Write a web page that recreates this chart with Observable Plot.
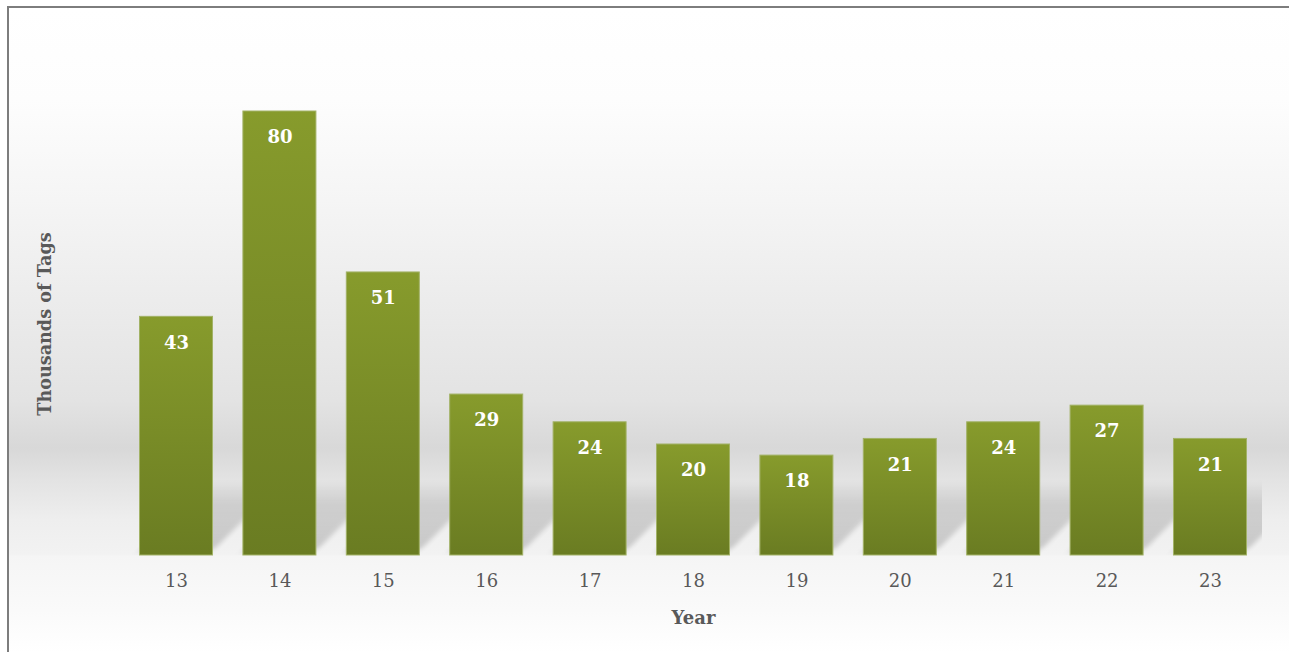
<!DOCTYPE html>
<html>
<head>
<meta charset="utf-8">
<script src="https://cdn.jsdelivr.net/npm/d3@7"></script>
<script src="https://cdn.jsdelivr.net/npm/@observablehq/plot@0.6"></script>
<style>
  html, body { margin: 0; padding: 0; background: #ffffff; }
  #page { position: relative; width: 1289px; height: 652px; overflow: hidden; }
  #frame {
    position: absolute; left: 7px; top: 6px; width: 1290px; height: 660px;
    border-left: 2px solid #7d7d7d; border-top: 2px solid #7d7d7d;
    background: linear-gradient(to bottom,
      #ffffff 0px, #fdfdfd 92px, #f5f5f5 192px, #ececec 292px, #e3e3e3 392px,
      #d8d8d8 440px, #e3e3e3 472px, #eeeeee 512px, #f2f2f2 546px,
      #f5f5f5 548px, #fafafa 602px, #ffffff 644px);
  }
  #chart { position: absolute; left: 0; top: 0; }
</style>
</head>
<body>
<div id="page"><div id="frame"></div><div id="chart"></div></div>
<script>
const years = ["13", "14", "15", "16", "17", "18", "19", "20", "21", "22", "23"];
const tags = [43, 80, 51, 29, 24, 20, 18, 21, 24, 27, 21];
const xTitle = "Year";
const yTitle = "Thousands of Tags";

const data = years.map((year, i) => ({year, tags: tags[i]}));
const SHADOW_DEPTH = 12; // depth of the floor shadow, in y units

const font = "'DejaVu Serif', serif";
const chart = Plot.plot({
  width: 1289,
  height: 652,
  marginLeft: 124,
  marginRight: 27,
  marginTop: 111,
  marginBottom: 97,
  style: {background: "transparent", fontFamily: font, overflow: "visible"},
  x: {domain: years, paddingInner: 0.294, paddingOuter: 0.15, round: false, label: null},
  y: {domain: [0, 80], axis: null},
  marks: [
    Plot.barY(data, {x: "year", y: () => SHADOW_DEPTH, fill: "url(#shadowGrad)", className: "bar-shadow", clip: true}),
    Plot.barY(data, {x: "year", y: "tags", fill: "url(#barGrad)", stroke: "#a2b266", strokeWidth: 1}),
    Plot.text(data, {x: "year", y: "tags", text: d => String(d.tags), dy: 26, fill: "#ffffff", fontSize: 18, fontWeight: "bold", lineAnchor: "middle"}),
    Plot.axisX({tickSize: 0, tickPadding: 19, fontSize: 18, fill: "#595959", label: null}),
    Plot.text([xTitle], {text: d => d, frameAnchor: "bottom", dy: 63, fontSize: 18, fontWeight: "bold", fill: "#595959", lineAnchor: "middle"}),
    Plot.text([yTitle], {text: d => d, frameAnchor: "left", textAnchor: "middle", rotate: -90, dx: -79, dy: -9.5, fontSize: 17.6, fontWeight: "bold", fill: "#595959", lineAnchor: "middle"})
  ]
});

const svg = d3.select(chart);
const defs = svg.insert("defs", ":first-child");
const bg = defs.append("linearGradient").attr("id", "barGrad").attr("x1", 0).attr("y1", 0).attr("x2", 0).attr("y2", 1);
bg.append("stop").attr("offset", "0%").attr("stop-color", "#879b2c");
bg.append("stop").attr("offset", "100%").attr("stop-color", "#6a7c22");
const sg = defs.append("linearGradient").attr("id", "shadowGrad").attr("x1", 0).attr("y1", 0).attr("x2", 0).attr("y2", 1);
sg.append("stop").attr("offset", "0%").attr("stop-color", "#000").attr("stop-opacity", 0.02);
sg.append("stop").attr("offset", "30%").attr("stop-color", "#000").attr("stop-opacity", 0.12);
sg.append("stop").attr("offset", "100%").attr("stop-color", "#000").attr("stop-opacity", 0.17);
const blur = defs.append("filter").attr("id", "shadowBlur").attr("x", "-20%").attr("y", "-20%").attr("width", "140%").attr("height", "140%");
blur.append("feGaussianBlur").attr("stdDeviation", 3);

const y0 = chart.scale("y").apply(0);
svg.selectAll(".bar-shadow rect")
  .attr("transform", `translate(0,${y0 - 4}) skewX(-45) translate(0,${-y0})`)
  .attr("filter", "url(#shadowBlur)");

document.getElementById("chart").appendChild(chart);
</script>
</body>
</html>
